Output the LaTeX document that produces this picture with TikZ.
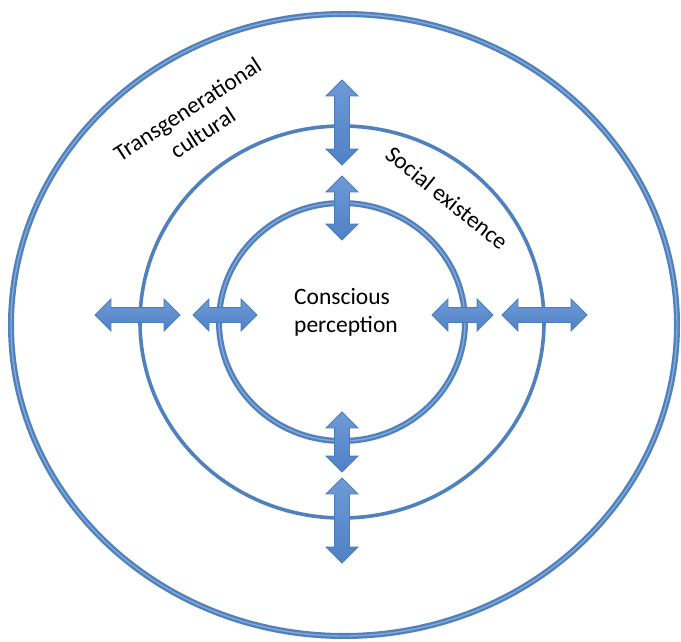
\documentclass[tikz,border=0pt]{standalone}
\usepackage{fontspec}
\setmainfont{Carlito}
\usetikzlibrary{shapes.arrows}
\definecolor{ring}{HTML}{4F81BD}
\definecolor{ringlight}{HTML}{86A8D6}
\definecolor{arrowedge}{HTML}{4A7EBB}
\definecolor{arrowtop}{HTML}{6E9AD7}
\definecolor{arrowbot}{HTML}{4F81C6}
\begin{document}
\begin{tikzpicture}[x=1pt,y=-1pt,
  ringthick/.style={draw=ring, double=ringlight, line width=2.3pt, double distance=1.4pt},
  ringthin/.style={draw=ring, line width=3.6pt},
  dblarrow/.style={double arrow, draw=arrowedge, line width=0.8pt, inner sep=0pt, inner ysep=7pt,
    double arrow head extend=8.5pt, double arrow tip angle=90, minimum width=31pt,
    top color=arrowtop, bottom color=arrowbot},
  lbl/.style={font=\fontsize{23.5}{28}\selectfont, inner sep=0pt, text=black}]
\useasboundingbox (0,0) rectangle (681,642);
\fill[white] (0,0) rectangle (681,642);
% rings
\draw[ringthick] (344,325) ellipse [x radius=333pt, y radius=311pt];
\draw[ringthin] (342,322) ellipse [x radius=202pt, y radius=196pt];
\draw[ringthick] (342,322) ellipse [x radius=123pt, y radius=119pt];
% arrows
\node[dblarrow, rotate=90, minimum height=85pt] (aTo) at (342,122.5) {};
\node[dblarrow, rotate=90, minimum height=64pt] (aTi) at (342,208) {};
\node[dblarrow, rotate=90, minimum height=60pt] (aBi) at (342,442) {};
\node[dblarrow, rotate=90, minimum height=85pt] (aBo) at (342,520.5) {};
\node[dblarrow, minimum height=85pt] (aLo) at (137.5,315) {};
\node[dblarrow, minimum height=64pt] (aLi) at (225,315) {};
\node[dblarrow, minimum height=61pt] (aRi) at (462.5,315) {};
\node[dblarrow, minimum height=85pt] (aRo) at (544.5,315) {};
% labels
\node[lbl, align=left, anchor=north west] (center) at (294,288) {Conscious\\perception};
\node[lbl, align=center, rotate=33] (trans) at (195,121) {Transgenerational\\cultural};
\node[lbl, rotate=-39] (social) at (447,198) {Social existence};
\end{tikzpicture}
\end{document}
